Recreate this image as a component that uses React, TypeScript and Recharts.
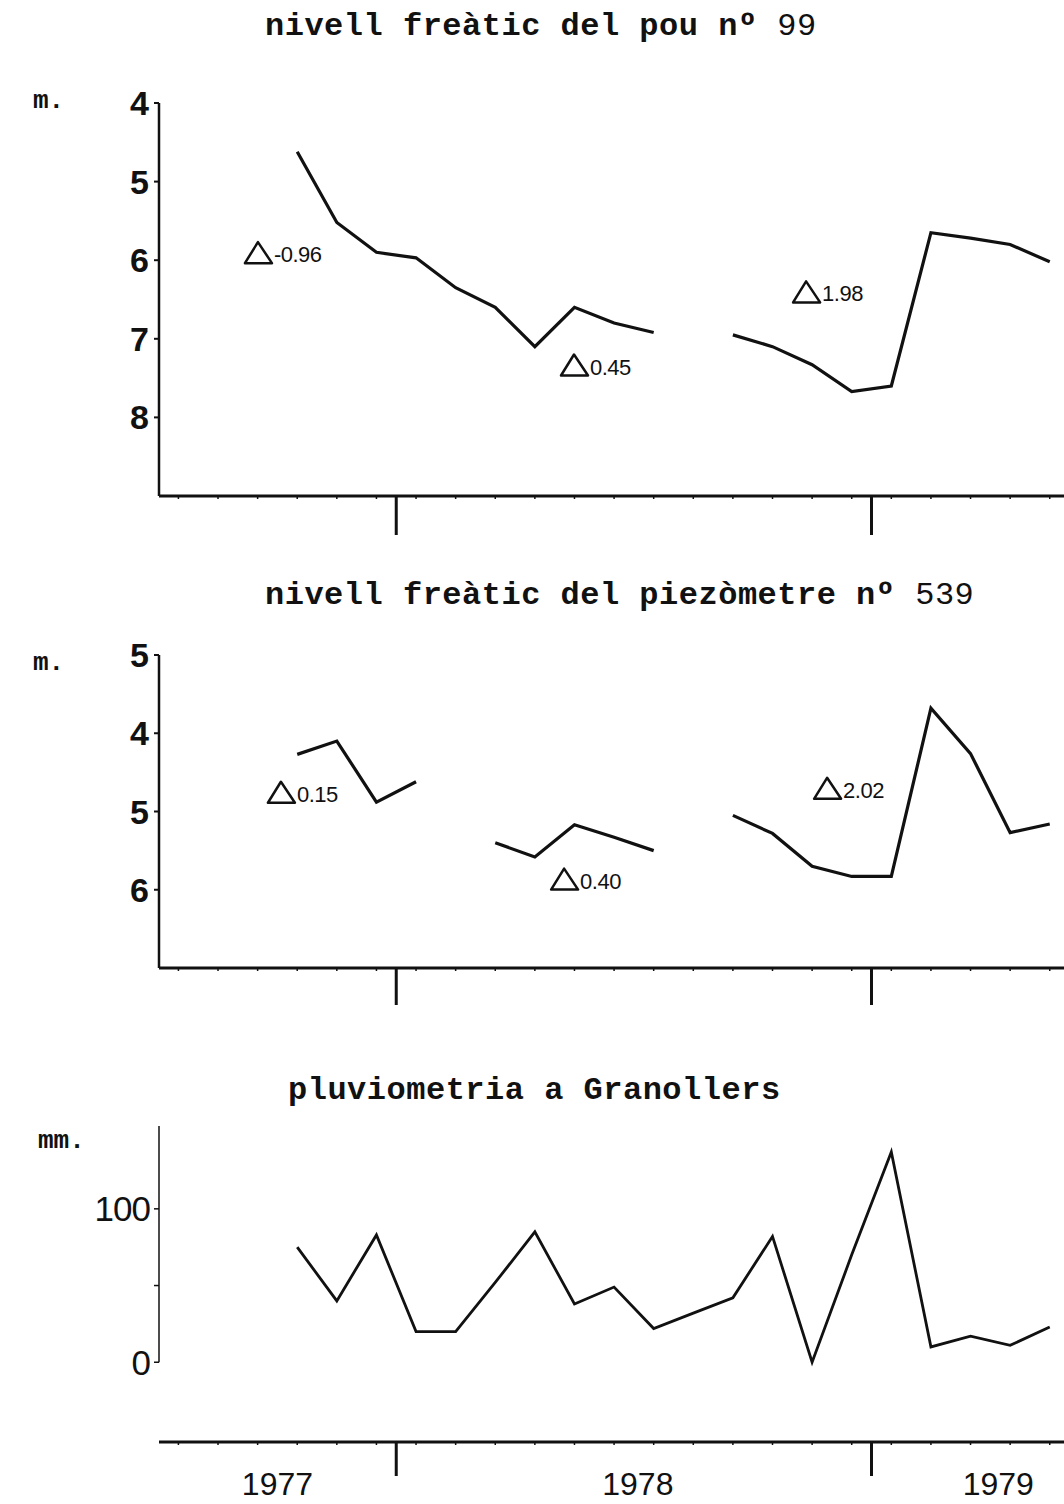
import React from "react";
import { LineChart, Line, XAxis, YAxis, ReferenceDot, ReferenceLine } from "recharts";

// month index counted from Jan 1977 = 0
const months = [9, 10, 11, 12, 13, 14, 15, 16, 17, 18, 19, 20, 21, 22, 23, 24, 25, 26, 27, 28];
const pou99 = [4.62, 5.52, 5.9, 5.97, 6.35, 6.6, 7.1, 6.6, 6.8, 6.92, null, 6.95, 7.1, 7.33, 7.67, 7.6, 5.65, 5.72, 5.8, 6.02];
const piezo539 = [4.27, 4.1, 4.88, 4.62, null, 5.4, 5.58, 5.17, 5.33, 5.5, null, 5.05, 5.28, 5.7, 5.83, 5.83, 3.68, 4.26, 5.27, 5.16];
const rainfall = [75, 40, 83, 20, 20, 52, 85, 38, 49, 22, 32, 42, 82, 0, 70, 137, 10, 17, 11, 23];

const monthTicks = [6, 7, 8, 9, 10, 11, 12, 13, 14, 15, 16, 17, 18, 19, 20, 21, 22, 23, 24, 25, 26, 27, 28];
const yearBreaks = [11.5, 23.5];
const years = ["1977", "1978", "1979"];
const yearLabelAt = [8.5, 17.6, 26.7];

const pouTicks = [4, 5, 6, 7, 8];
const piezoTicks = [3, 4, 5, 6];
const piezoTickLabels = ["5", "4", "5", "6"];
const rainTicks = [0, 50, 100];
const rainTickLabels = ["0", "", "100"];

const pouNotes = [
  { k: 7.68, v: 5.91, text: "-0.96" },
  { k: 15.66, v: 7.34, text: "0.45" },
  { k: 21.52, v: 6.41, text: "1.98" },
];
const piezoNotes = [
  { k: 8.26, v: 4.76, text: "0.15" },
  { k: 15.41, v: 5.87, text: "0.40" },
  { k: 22.05, v: 4.71, text: "2.02" },
];

const table = months.map((k, i) => ({ k, pou: pou99[i], piezo: piezo539[i], rain: rainfall[i] }));

const xDomain = [5.51, 28.36];
const INK = "#111";
const SANS = "'Liberation Sans', Arial, sans-serif";
const MONO = "'Liberation Mono', 'Courier New', monospace";

function monthTick(bigLen: number, withYears: boolean) {
  return (props: any) => {
    const { x, y, payload } = props;
    const v = payload.value;
    if (yearBreaks.includes(v)) {
      return <line x1={x} y1={y} x2={x} y2={y + bigLen} stroke={INK} strokeWidth={3} />;
    }
    const yi = yearLabelAt.indexOf(v);
    if (yi >= 0) {
      return withYears ? (
        <text x={x} y={y + 53} textAnchor="middle" fontSize={32} fontFamily={SANS} fill={INK}>
          {years[yi]}
        </text>
      ) : (
        <g />
      );
    }
    return <line x1={x} y1={y} x2={x} y2={y + 3} stroke={INK} strokeWidth={1.5} />;
  };
}

function DeltaNote({ cx, cy, text }: { cx: number; cy: number; text: string }) {
  return (
    <g>
      <polygon
        points={`${cx},${cy + 10} ${cx + 13},${cy - 11} ${cx + 27},${cy + 10}`}
        fill="none"
        stroke={INK}
        strokeWidth={2.5}
        strokeLinejoin="round"
      />
      <text x={cx + 29} y={cy + 9} fontSize={22} fontFamily={SANS} fill={INK} letterSpacing={-0.5}>
        {text}
      </text>
    </g>
  );
}

const titleStyle: React.CSSProperties = {
  position: "absolute",
  fontFamily: MONO,
  fontWeight: 700,
  fontSize: 32,
  lineHeight: "32px",
  letterSpacing: 0.5,
  color: INK,
  whiteSpace: "nowrap",
};

const unitStyle: React.CSSProperties = {
  position: "absolute",
  fontFamily: MONO,
  fontWeight: 700,
  fontSize: 26,
  lineHeight: "26px",
  color: INK,
};

export default function App() {
  const allTicks = [...monthTicks, ...yearBreaks, ...yearLabelAt];
  const xAxisCommon = {
    dataKey: "k",
    type: "number" as const,
    domain: xDomain,
    ticks: allTicks,
    interval: 0 as const,
    tickSize: 0,
    tickMargin: 0,
    tickLine: false,
    allowDataOverflow: true,
    axisLine: { stroke: INK, strokeWidth: 3 },
  };
  const yTickStyle = { fill: INK, fontSize: 34, fontWeight: 700, fontFamily: SANS };

  return (
    <div style={{ position: "absolute", left: 0, top: 0, width: 1064, height: 1504, overflow: "hidden", background: "#fff" }}>
      <div style={{ ...titleStyle, left: 265, top: 11 }}>
        nivell freàtic del pou nº <span style={{ fontWeight: 400 }}>99</span>
      </div>
      <div style={{ ...unitStyle, left: 33, top: 88 }}>m.</div>
      <div style={{ position: "absolute", left: 0, top: 0 }}>
        <LineChart width={1064} height={560} data={table} margin={{ top: 103, right: 0, bottom: 24, left: 0 }}>
          <XAxis {...xAxisCommon} height={40} tick={monthTick(39, false)} />
          <YAxis
            width={159}
            reversed
            domain={[4, 9]}
            ticks={pouTicks}
            interval={0}
            tick={yTickStyle}
            tickSize={5}
            tickMargin={5}
            tickLine={{ stroke: INK, strokeWidth: 2 }}
            axisLine={{ stroke: INK, strokeWidth: 2.5 }}
          />
          <Line dataKey="pou" stroke={INK} strokeWidth={3.2} dot={false} isAnimationActive={false} />
          {pouNotes.map((n) => (
            <ReferenceDot key={n.text} x={n.k} y={n.v} r={0} shape={(p: any) => <DeltaNote cx={p.cx} cy={p.cy} text={n.text} />} />
          ))}
        </LineChart>
      </div>

      <div style={{ ...titleStyle, left: 265, top: 580 }}>
        nivell freàtic del piezòmetre nº <span style={{ fontWeight: 400 }}>539</span>
      </div>
      <div style={{ ...unitStyle, left: 33, top: 650 }}>m.</div>
      <div style={{ position: "absolute", left: 0, top: 560 }}>
        <LineChart width={1064} height={460} data={table} margin={{ top: 95, right: 0, bottom: 12, left: 0 }}>
          <XAxis {...xAxisCommon} height={40} tick={monthTick(37, false)} />
          <YAxis
            width={159}
            reversed
            domain={[3, 7]}
            ticks={piezoTicks}
            interval={0}
            tick={yTickStyle}
            tickFormatter={(v: number) => piezoTickLabels[piezoTicks.indexOf(v)] ?? ""}
            tickSize={5}
            tickMargin={5}
            tickLine={{ stroke: INK, strokeWidth: 2 }}
            axisLine={{ stroke: INK, strokeWidth: 2.5 }}
          />
          <Line dataKey="piezo" stroke={INK} strokeWidth={3.2} dot={false} isAnimationActive={false} />
          {piezoNotes.map((n) => (
            <ReferenceDot key={n.text} x={n.k} y={n.v} r={0} shape={(p: any) => <DeltaNote cx={p.cx} cy={p.cy} text={n.text} />} />
          ))}
        </LineChart>
      </div>

      <div style={{ ...titleStyle, left: 288, top: 1075 }}>pluviometria a Granollers</div>
      <div style={{ ...unitStyle, left: 38, top: 1128 }}>mm.</div>
      <div style={{ position: "absolute", left: 0, top: 1020 }}>
        <LineChart width={1064} height={484} data={table} margin={{ top: 106, right: 0, bottom: 2, left: 0 }}>
          <XAxis {...xAxisCommon} height={60} tick={monthTick(34, true)} />
          <YAxis
            width={159}
            domain={[-52, 154]}
            ticks={rainTicks}
            interval={0}
            tick={{ fill: INK, fontSize: 35, fontFamily: SANS, letterSpacing: -1 }}
            tickFormatter={(v: number) => rainTickLabels[rainTicks.indexOf(v)] ?? ""}
            tickSize={5}
            tickMargin={4}
            tickLine={{ stroke: INK, strokeWidth: 1.5 }}
            axisLine={false}
          />
          <ReferenceLine
            segment={[
              { x: xDomain[0], y: 0 },
              { x: xDomain[0], y: 154 },
            ]}
            stroke={INK}
            strokeWidth={1.5}
          />
          <Line dataKey="rain" stroke={INK} strokeWidth={2.8} dot={false} isAnimationActive={false} />
        </LineChart>
      </div>
    </div>
  );
}
